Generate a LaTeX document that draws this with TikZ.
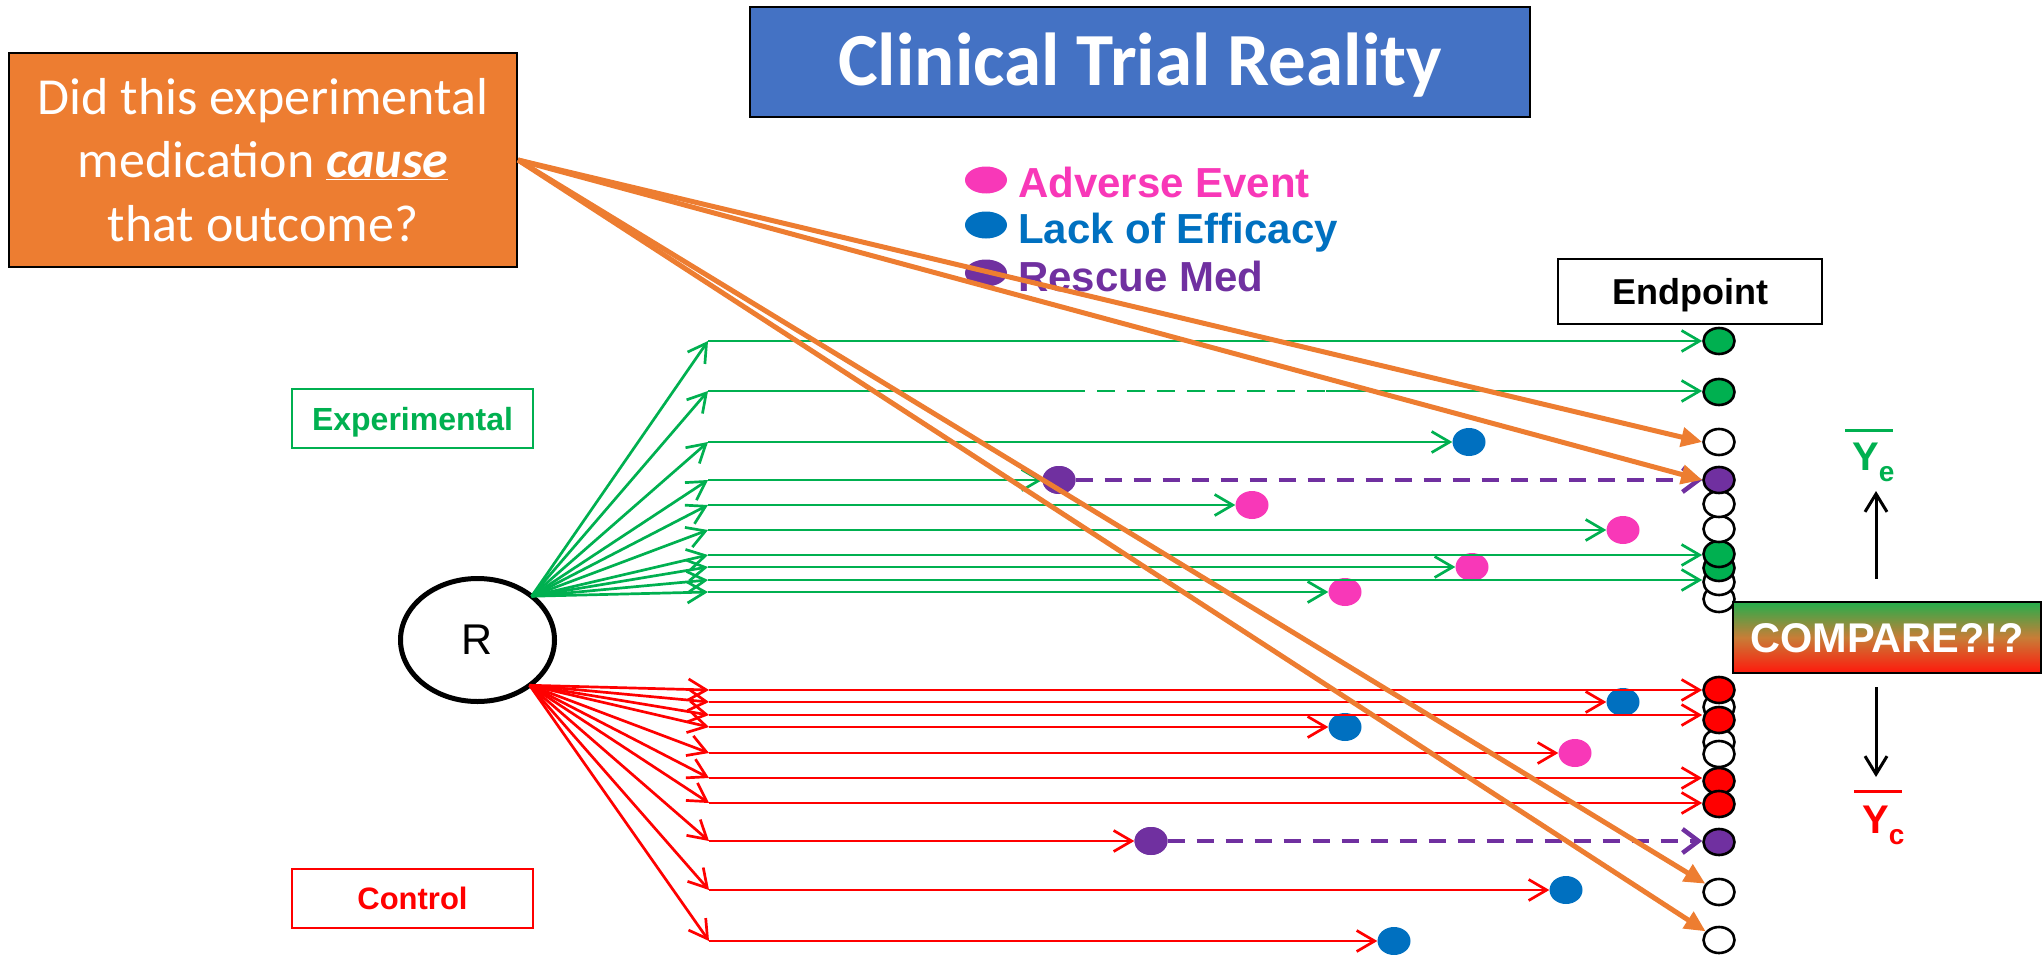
\documentclass[tikz,border=0pt]{standalone}
\usepackage{fontspec}
\setmainfont{Liberation Sans}[Ligatures=NoCommon]
\newfontfamily\calibri{Carlito}
\usetikzlibrary{arrows.meta,shapes.geometric,calc}

\definecolor{tgreen}{RGB}{0,176,80}
\definecolor{tred}{RGB}{255,0,0}
\definecolor{tblue}{RGB}{0,112,192}
\definecolor{tpurple}{RGB}{112,48,160}
\definecolor{tpink}{RGB}{248,56,184}
\definecolor{torange}{RGB}{237,125,49}
\definecolor{ttitle}{RGB}{68,114,196}
\definecolor{cmpTop}{RGB}{36,174,76}
\definecolor{cmpMid}{RGB}{200,125,55}
\definecolor{cmpBot}{RGB}{255,24,12}

\newcommand{\fs}[1]{\fontsize{#1}{#1}\selectfont}

\begin{document}
\begin{tikzpicture}[x=1pt,y=-1pt,
  barb/.style={-{Straight Barb[length=18pt,width=21pt]}},
  gline/.style={draw=tgreen,line width=2.7pt},
  rline/.style={draw=tred,line width=2.7pt},
  garrow/.style={gline,barb},
  rarrow/.style={rline,barb},
  gdash/.style={gline,dash pattern=on 18pt off 12pt},
  pdash/.style={draw=tpurple,line width=4.5pt,dash pattern=on 17pt off 12pt,
    -{Straight Barb[length=16pt,width=24pt]}},
  endpt/.style={ellipse,draw=black,line width=2.6pt,minimum width=31pt,
    minimum height=26pt,inner sep=0pt,fill=white},
  evt/.style={ellipse,minimum width=33pt,minimum height=28pt,inner sep=0pt},
  lgdot/.style={ellipse,minimum width=42pt,minimum height=27pt,inner sep=0pt},
  lgtext/.style={anchor=base west,inner sep=0pt,font=\bfseries\fs{42}},
  oarrow/.style={draw=torange,line width=5pt,-{Triangle[length=21pt,width=19pt]}},
  karrow/.style={draw=black,line width=3pt,-{Straight Barb[length=18pt,width=22pt]}},
  groupbox/.style={minimum width=241pt,minimum height=59pt,inner sep=0pt,
    line width=2pt,font=\bfseries\fs{32},text height=23pt,text depth=0pt},
]
\useasboundingbox (0,0) rectangle (2044,955);

% ---------- headers ----------
\node[draw=black,line width=2pt,fill=ttitle,minimum width=780pt,minimum height=110pt,
  inner sep=0pt,text=white,font=\calibri\bfseries\fs{75},text height=48pt,text depth=0pt]
  (title) at (1140,62) {Clinical Trial Reality};

\node[draw=black,line width=2pt,fill=torange,minimum width=508pt,minimum height=214pt,
  inner sep=0pt,text=white,align=center,font=\calibri\fontsize{52}{63.5}\selectfont]
  (q) at (263,160) {Did this experimental\\medication \underline{\textbf{\textit{cause}}}\\that outcome?};

% ---------- legend ----------
\node[lgdot,fill=tpink]   (lgA) at (986,180) {};
\node[lgdot,fill=tblue]   (lgL) at (986,225) {};
\node[lgdot,fill=tpurple] (lgR) at (986,273) {};
\node[lgtext,text=tpink]   (lgAt) at (1018,197) {Adverse Event};
\node[lgtext,text=tblue]   (lgLt) at (1018,243) {Lack of Efficacy};
\node[lgtext,text=tpurple] (lgRt) at (1018,291) {Rescue Med};

% ---------- group labels and randomisation ----------
\node[groupbox,draw=tgreen,text=tgreen] (expbox) at (412.5,418.5) {Experimental};
\node[groupbox,draw=tred,text=tred,font=\bfseries\fs{31},text height=22pt] (ctlbox) at (412.5,898.5) {Control};

\node[ellipse,draw=black,line width=5pt,minimum width=154pt,minimum height=123pt,
  inner sep=0pt,outer sep=0pt,font=\fs{43}] (R) at (477.5,640) {R};
\coordinate (gO) at (R.39);
\coordinate (rO) at (R.-41);

\node[draw=black,line width=2.5pt,fill=white,minimum width=264pt,minimum height=65pt,
  inner sep=0pt,font=\bfseries\fs{36},text height=25.8pt,text depth=0pt]
  (endbox) at (1690,291.5) {Endpoint};

% ---------- row starts ----------
\foreach \n/\y in {1/341,2/391,3/442,4/480,5/505,6/530,7/555,8/567,9/580,10/592}
  \coordinate (gs\n) at (708,\y);
\foreach \n/\y in {1/690,2/702,3/715,4/727,5/753,6/778,7/803,8/841,9/890,10/941}
  \coordinate (cs\n) at (709,\y);

% ---------- endpoint circles: experimental ----------
\node[endpt] (ee10) at (1719,599) {};
\node[endpt] (ee9)  at (1719,582) {};
\node[endpt,fill=tgreen] (ee8) at (1719,568) {};
\node[endpt,fill=tgreen] (ee7) at (1719,554) {};
\node[endpt] (ee6) at (1719,529) {};
\node[endpt] (ee5) at (1719,504) {};
\node[endpt,fill=tpurple] (ee4) at (1719,480) {};
\node[endpt] (ee3) at (1719,442) {};
\node[endpt,fill=tgreen] (ee2) at (1719,392) {};
\node[endpt,fill=tgreen] (ee1) at (1719,341) {};

% ---------- endpoint circles: control ----------
\node[endpt] (cc2)  at (1719,707) {};
\node[endpt] (cc4)  at (1719,742) {};
\node[endpt] (cc5)  at (1719,754) {};
\node[endpt] (cc9)  at (1719,892) {};
\node[endpt] (cc10) at (1719,940) {};
\node[endpt,fill=tred] (cc1) at (1719,690) {};
\node[endpt,fill=tred] (cc3) at (1719,720) {};
\node[endpt,fill=tred] (cc6) at (1719,781) {};
\node[endpt,fill=tred] (cc7) at (1719,804) {};
\node[endpt,fill=tpurple] (cc8) at (1719,842) {};

% ---------- event dots ----------
\node[evt,fill=tblue]   (ge3)  at (1469,442) {};
\node[evt,fill=tpurple] (ge4)  at (1059,480) {};
\node[evt,fill=tpink]   (ge5)  at (1252,505) {};
\node[evt,fill=tpink]   (ge6)  at (1623,530) {};
\node[evt,fill=tpink]   (ge8)  at (1472,567) {};
\node[evt,fill=tpink]   (ge10) at (1345,592) {};
\node[evt,fill=tblue]   (ce2)  at (1623,702) {};
\node[evt,fill=tblue]   (ce4)  at (1345,727) {};
\node[evt,fill=tpink]   (ce5)  at (1575,753) {};
\node[evt,fill=tpurple] (ce8)  at (1151,841) {};
\node[evt,fill=tblue]   (ce9)  at (1566,890) {};
\node[evt,fill=tblue]   (ce10) at (1394,941) {};

% ---------- randomisation fans ----------
\foreach \n in {1,...,10} \draw[garrow] (gO) -- (gs\n);
\foreach \n in {1,...,10} \draw[rarrow] (rO) -- (cs\n);

% ---------- experimental follow-up ----------
\coordinate (g2a) at (1067,391);
\coordinate (g2b) at (1326,391);
\draw[garrow] (gs1) -- (gs1 -| ee1.west);
\draw[gline]  (gs2) -- (g2a);
\draw[gdash]  (g2a) -- (g2b);
\draw[garrow] (g2b) -- (g2b -| ee2.west);
\draw[garrow] (gs3) -- (ge3);
\draw[garrow] (gs4) -- (ge4);
\draw[pdash]  (ge4) -- (ge4 -| ee4.west);
\draw[garrow] (gs5) -- (ge5);
\draw[garrow] (gs6) -- (ge6);
\draw[garrow] (gs7) -- (gs7 -| ee7.west);
\draw[garrow] (gs8) -- (ge8);
\draw[garrow] (gs9) -- (gs9 -| ee9.west);
\draw[garrow] (gs10) -- (ge10);
\node[evt,fill=tpurple] at (ge4) {};

% ---------- control follow-up ----------
\draw[rarrow] (cs1) -- (cs1 -| cc1.west);
\draw[rarrow] (cs2) -- (ce2);
\draw[rarrow] (cs3) -- (cs3 -| cc3.west);
\draw[rarrow] (cs4) -- (ce4);
\draw[rarrow] (cs5) -- (ce5);
\draw[rarrow] (cs6) -- (cs6 -| cc6.west);
\draw[rarrow] (cs7) -- (cs7 -| cc7.west);
\draw[rarrow] (cs8) -- (ce8);
\draw[pdash]  (ce8) -- (ce8 -| cc8.west);
\draw[rarrow] (cs9) -- (ce9);
\draw[rarrow] (cs10) -- (ce10);
\node[evt,fill=tpurple] at (ce8) {};

% ---------- comparison ----------
\node[draw=black,line width=2pt,top color=cmpTop,bottom color=cmpBot,middle color=cmpMid,
  minimum width=308pt,minimum height=71pt,inner sep=0pt,text=white,
  font=\bfseries\fs{41.5},text height=29.7pt,text depth=0pt]
  (cmp) at (1887,637.5) {COMPARE?!?};

\node[anchor=base west,inner sep=0pt,text=tgreen,font=\bfseries\fs{40}] (ye) at (1845,470)
  {\rlap{\rule[38.5pt]{48pt}{3pt}}\kern7pt Y\raisebox{-11pt}{\fs{28}e}};
\node[anchor=base west,inner sep=0pt,text=tred,font=\bfseries\fs{40}] (yc) at (1854,833)
  {\rlap{\rule[40.5pt]{48pt}{3pt}}\kern8pt Y\raisebox{-11pt}{\fs{28}c}};

\coordinate (upS) at (1876,579);
\coordinate (upE) at (1876,491);
\coordinate (dnS) at (1876,687);
\coordinate (dnE) at (1876,777);
\draw[karrow] (upS) -- (upE);
\draw[karrow] (dnS) -- (dnE);

% ---------- causal question pointers ----------
\draw[oarrow] (q.east) -- (ee3.west);
\draw[oarrow] (q.east) -- (ee4.west);
\draw[oarrow] (q.east) -- (cc9);
\draw[oarrow] (q.east) -- (cc10);
\end{tikzpicture}
\end{document}
